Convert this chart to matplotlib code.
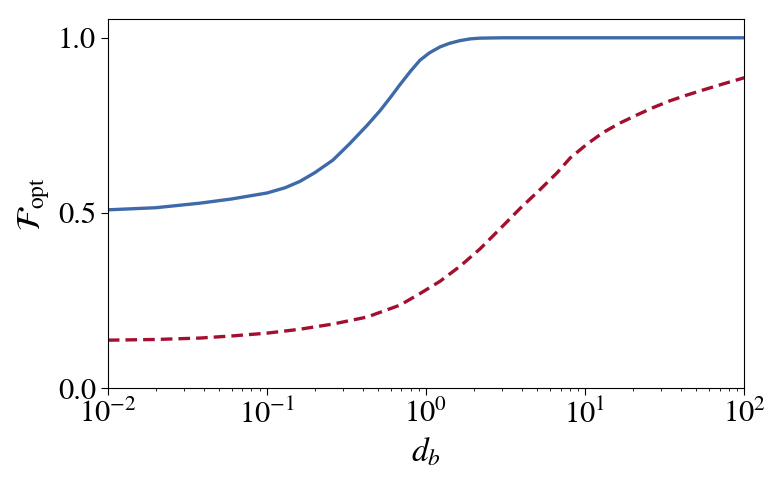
import numpy as np
import matplotlib
matplotlib.use("Agg")
import matplotlib.pyplot as plt

plt.rcParams['font.family'] = ['STIXGeneral', 'DejaVu Serif']
plt.rcParams['mathtext.fontset'] = 'stix'

# values
d_blue = [0.01, 0.02, 0.0379, 0.06, 0.1, 0.13, 0.161, 0.2, 0.26, 0.33, 0.426, 0.514,
          0.6, 0.685, 0.8, 0.916, 1.05, 1.224, 1.4, 1.636, 1.9, 2.19, 3.0, 10.0, 100.0]
f_blue = [0.509, 0.515, 0.528, 0.540, 0.557, 0.572, 0.590, 0.615, 0.651, 0.697, 0.750, 0.792,
          0.831, 0.866, 0.905, 0.936, 0.957, 0.974, 0.984, 0.992, 0.997, 0.999, 1.0, 1.0, 1.0]

d_red = [0.01, 0.02, 0.0379, 0.06, 0.1, 0.16, 0.26, 0.426, 0.686, 0.916, 1.224, 1.636,
         2.19, 2.92, 3.9, 5.21, 6.67, 8.05, 10.3, 13.0, 16.6, 21.2, 26.8, 34.0, 43.9, 56.0, 70.6, 100.0]
f_red = [0.137, 0.139, 0.143, 0.149, 0.157, 0.168, 0.183, 0.203, 0.237, 0.270, 0.305, 0.348,
         0.398, 0.455, 0.513, 0.567, 0.615, 0.657, 0.697, 0.730, 0.757, 0.780, 0.801, 0.820,
         0.837, 0.852, 0.866, 0.886]

fig, ax = plt.subplots(figsize=(7.81, 4.84), dpi=100)

ax.plot(d_blue, f_blue, color='#3f6aa9', lw=2.4)
ax.plot(d_red, f_red, color='#a3102f', lw=2.4, dashes=(3.5, 1.8))

ax.set_xscale('log')
ax.set_xlim(1e-2, 1e2)
ax.set_ylim(0, 1.054)
ax.set_yticks([0.0, 0.5, 1.0])
ax.set_yticklabels(['0.0', '0.5', '1.0'])
ax.tick_params(labelsize=22, length=5)
ax.set_xlabel(r'$d_b$', fontsize=24)
ax.set_ylabel(r'$\mathcal{F}_{\rm opt}$', fontsize=24)

fig.subplots_adjust(left=0.138, right=0.953, top=0.961, bottom=0.198)
fig.savefig('out.png', dpi=100)
